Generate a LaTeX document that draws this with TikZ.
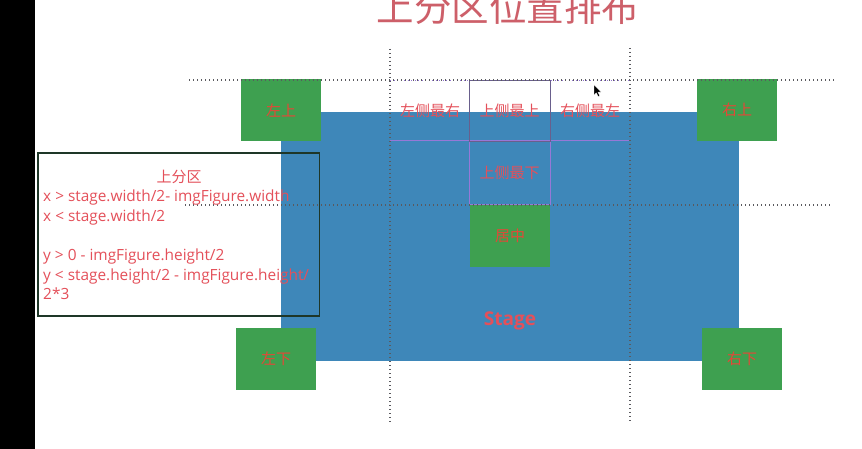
\documentclass[tikz,border=0pt]{standalone}
\usepackage{fontspec}
\setmainfont{Open Sans}
\newfontfamily\cjk{Noto Sans CJK SC}
\definecolor{stageblue}{RGB}{62,135,185}
\definecolor{imggreen}{RGB}{62,160,80}
\definecolor{titlered}{RGB}{205,95,105}
\definecolor{labred}{RGB}{228,80,90}
\definecolor{greenlab}{RGB}{228,72,55}
\definecolor{gridpurple}{RGB}{150,120,215}
\definecolor{cellgray}{RGB}{105,95,140}
\definecolor{dotgray}{RGB}{90,90,95}
\definecolor{boxdark}{RGB}{30,55,40}
\tikzset{
  imgbox/.style={fill=imggreen, inner sep=0pt, minimum width=80bp, minimum height=62bp, anchor=north west,
    font=\cjk\fontsize{15bp}{17bp}\selectfont, text=greenlab},
  celllab/.style={font=\cjk\fontsize{15bp}{17bp}\selectfont, text=labred, inner sep=0pt},
  dotline/.style={dotgray, line width=1.3bp, dash pattern=on 1.4bp off 2.6bp},
  codeline/.style={anchor=base west, inner sep=0pt, text=labred, font=\fontsize{15.4bp}{17bp}\selectfont},
}
\begin{document}
\begin{tikzpicture}[x=1bp,y=-1bp]
\useasboundingbox (0,0) rectangle (862,449);
\fill[white] (0,0) rectangle (862,449);
\fill[black] (0,0) rectangle (35,449);
% title (cut off by the top edge, as in the reference)
\begin{scope}
\clip (0,0) rectangle (862,449);
\node[anchor=base, inner sep=0pt, text=titlered, font=\cjk\fontsize{37.5bp}{40bp}\selectfont] (title) at (508,21.5) {上分区位置排布};
\end{scope}
% stage
\node[fill=stageblue, inner sep=0pt, minimum width=458bp, minimum height=249bp, anchor=north west] (stage) at (281,112) {};
\node[text=labred, inner sep=0pt, font=\bfseries\fontsize{19bp}{21bp}\selectfont] (stagelab) at (510,321) {Stage};
% image figures
\node[imgbox] (lt) at (241,79) {左上};
\node[imgbox] (rt) at (697,79) {右上};
\node[imgbox] (lb) at (236,328) {左下};
\node[imgbox] (rb) at (702,328) {右下};
\node[imgbox] (ctr) at (470,205) {居中};
% top section grid
\draw[gridpurple, line width=1bp] (390,141) -- (630,141);
\draw[gridpurple, line width=0.9bp, dash pattern=on 1.3bp off 2.2bp] (390,80) -- (630,80);
\draw[gridpurple, line width=1bp] (469,141) rectangle (550,205);
\draw[cellgray, line width=0.9bp] (469,80) rectangle (550,141);
\node[celllab] (c1) at (430,111) {左侧最右};
\node[celllab] (c2) at (509.5,111) {上侧最上};
\node[celllab] (c3) at (590,111) {右侧最左};
\node[celllab] (c4) at (509.5,173) {上侧最下};
% guide lines
\draw[dotline] (189,80) -- (837,80);
\draw[dotline] (185,205) -- (833,205);
\draw[dotline] (390,49) -- (390,425);
\draw[dotline] (630,48) -- (630,423);
% text box
\draw[boxdark, line width=1.3bp] (38,153) rectangle (319.5,316);
\node[inner sep=0pt, text=labred, font=\cjk\fontsize{15bp}{17bp}\selectfont] (head) at (179,177) {上分区};
\node[codeline] (l1) at (43,202) {x > stage.width/2- imgFigure.width};
\node[codeline] (l2) at (43,222) {x < stage.width/2};
\node[codeline] (l3) at (43,261) {y > 0 - imgFigure.height/2};
\node[codeline] (l4) at (43,280.5) {y < stage.height/2 - imgFigure.height/};
\node[codeline] (l5) at (43,300) {2*3};
% mouse cursor
\fill[black, draw=white, line width=0.3bp] (594,85) -- (594,95) -- (596.3,92.8) -- (598.2,96.6) -- (599.8,95.9) -- (597.9,92.2) -- (601,92) -- cycle;
\end{tikzpicture}
\end{document}
